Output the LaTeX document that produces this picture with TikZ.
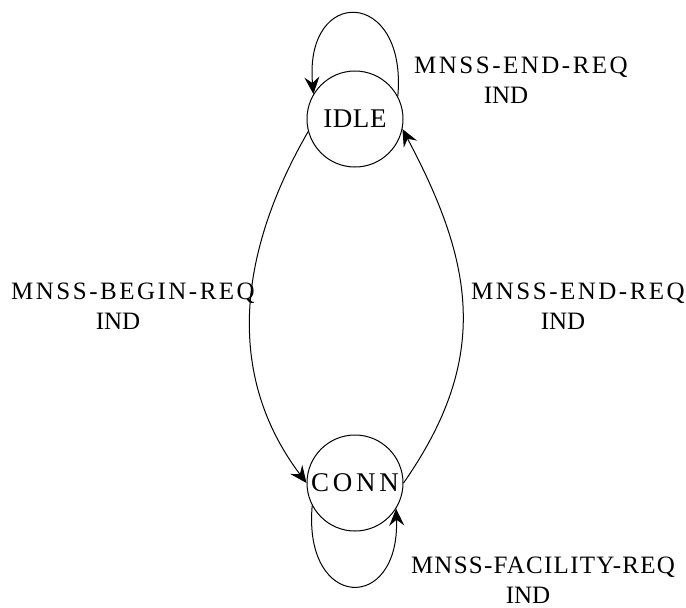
\documentclass[tikz,border=0pt]{standalone}
\usepackage{fontspec}
\setmainfont{Liberation Serif}
\usetikzlibrary{arrows.meta,positioning}
\newcommand{\wide}[2][10]{{\addfontfeature{LetterSpace=#1}#2}}

\begin{document}
\begin{tikzpicture}[x=0.5pt,y=-0.5pt]
\tikzstyle{every node}=[font=\fontsize{12.5}{15}\selectfont]
\tikzstyle{state}=[circle,draw,line width=0.5pt,minimum size=48pt,inner sep=0pt,font=\fontsize{13.5}{16}\selectfont]
\tikzstyle{lbl}=[align=center,inner sep=0pt]
\tikzstyle{trans}=[-{Stealth[length=8.5pt,width=7.5pt,inset=3pt]},line width=0.5pt]

\useasboundingbox (0,0) rectangle (686,607);

% states
\node[state] (idle) at (355,119) {\wide[2]{IDLE}};
\node[state,below=133.5pt of idle] (conn) {\wide[14]{CONN}};

% transitions
\draw[trans] (idle.28) to[out=85,in=95,looseness=3.3] (idle.149);
\draw[trans] (idle.195) to[out=240,in=127] (conn.180);
\draw[trans] (conn.0) to[out=55,in=-62,looseness=1.1] (idle.-12);
\draw[trans] (conn.208) to[out=265,in=272,looseness=3.2] (conn.-32);

% labels
\node[lbl] (l_idle) at (521,80) {\wide{MNSS-END-REQ}\\IND\hspace*{1.2em}};
\node[lbl] (l_begin) at (133,306) {\wide{MNSS-BEGIN-REQ}\\IND\hspace*{1.2em}};
\node[lbl] (l_end) at (578,306) {\wide{MNSS-END-REQ}\\IND\hspace*{1.2em}};
\node[lbl] (l_fac) at (543,580) {\wide[5]{MNSS-FACILITY-REQ}\\IND\hspace*{1.2em}};
\end{tikzpicture}
\end{document}
